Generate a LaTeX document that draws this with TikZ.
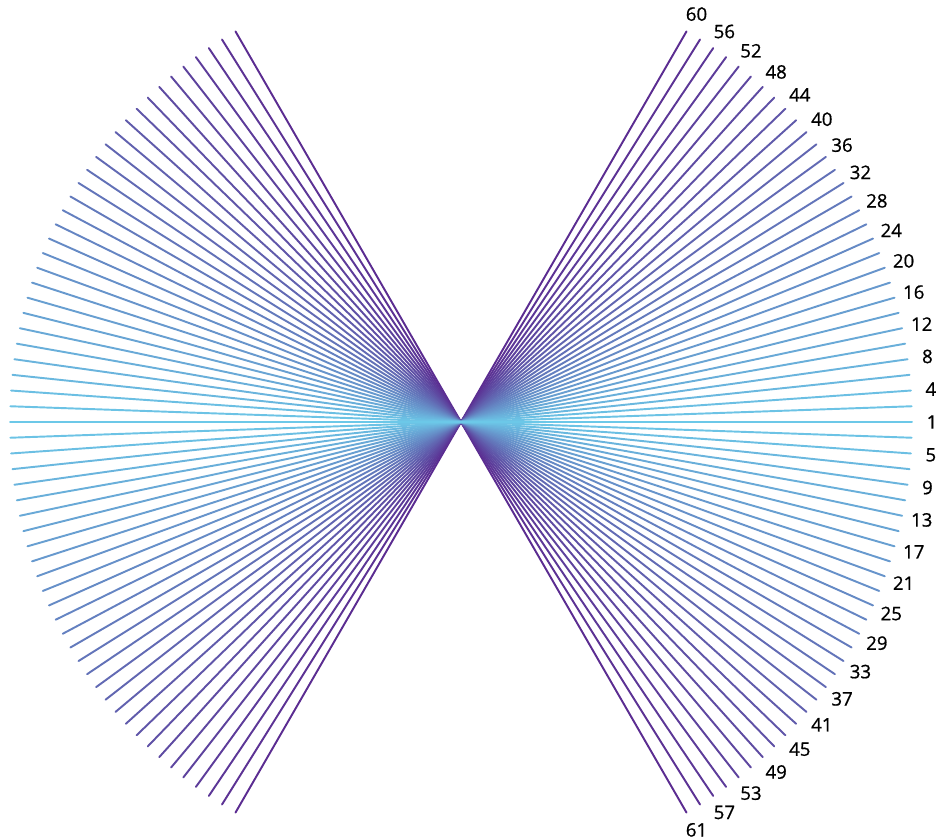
\documentclass[tikz,border=0pt]{standalone}
\usepackage{fontspec}
\setmainfont{Open Sans}
\newfontfamily\labelfont[FakeBold=0.8]{Open Sans}
\usepackage{tikz}
\usetikzlibrary{calc}
\definecolor{raycyan}{HTML}{6CC8E8}
\definecolor{raypurple}{HTML}{5B2C91}

\begin{document}
\begin{tikzpicture}[
  x=0.02cm, y=0.02cm,
  ray/.style={line width=1.1pt, line cap=round},
  raylabel/.style={font=\labelfont\fontsize{10.6}{12}\selectfont, text=black, inner sep=0pt}
]
\useasboundingbox (0,0) rectangle (939,839);
\coordinate (ctr) at (461,417);

% lines drawn from the outer (purple) ones inwards, so the cyan ones lie on top
\foreach \n in {61,60,...,1}{
  \pgfmathtruncatemacro\a{mod(\n,2)==1 ? 1-\n : \n}
  \pgfmathtruncatemacro\p{abs(\a)*100/60}
  \pgfmathtruncatemacro\k{mod(\n,4)}
  \colorlet{raycol}{raypurple!\p!raycyan}
  \coordinate (r\n) at ($(ctr)+(\a:451)$);
  \coordinate (l\n) at ($(ctr)+(\a+180:451)$);
  \draw[ray, raycol] (l\n) -- (r\n);
  \ifnum\k<2
    \node[raylabel] (lab\n) at ($(ctr)+(\a:471)$) {\n};
  \fi
}
\end{tikzpicture}
\end{document}
